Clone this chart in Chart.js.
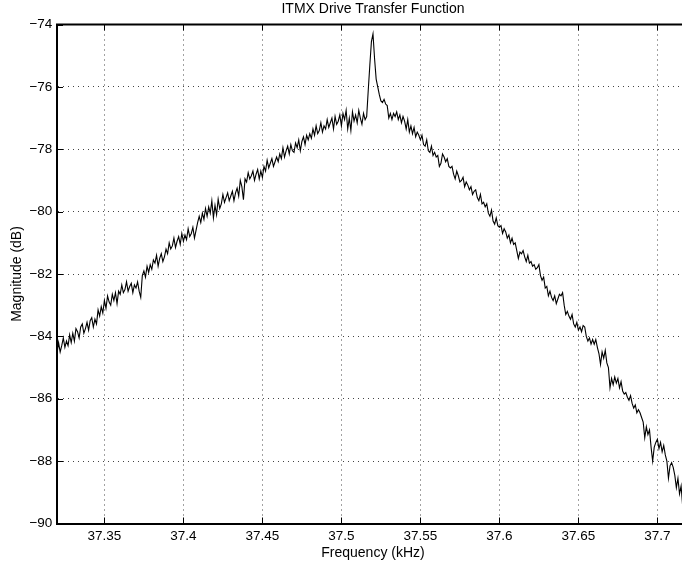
<!DOCTYPE html>
<html>
<head>
<meta charset="utf-8">
<script src="https://cdn.jsdelivr.net/npm/chart.js@4"></script>
<style>
html,body{margin:0;padding:0;background:#fff;overflow:hidden;width:682px;height:565px}
#wrap{position:absolute;left:0;top:0;width:690px;height:565px}
</style>
</head>
<body>
<div id="wrap"><canvas id="c"></canvas></div>
<script>
const chartTitle = 'ITMX Drive Transfer Function';
const xAxisTitle = 'Frequency (kHz)';
const yAxisTitle = 'Magnitude (dB)';
const xTickValues = [37.35, 37.4, 37.45, 37.5, 37.55, 37.6, 37.65, 37.7];
const yTickValues = [-90, -88, -86, -84, -82, -80, -78, -76, -74];

const freqKHz = [
37.320,37.321,37.322,37.323,37.324,37.325,37.326,37.327,37.328,37.329,
37.330,37.331,37.332,37.333,37.334,37.335,37.336,37.337,37.338,37.339,
37.340,37.341,37.342,37.343,37.344,37.345,37.346,37.347,37.348,37.349,
37.350,37.351,37.352,37.353,37.354,37.355,37.356,37.357,37.358,37.359,
37.360,37.361,37.362,37.363,37.364,37.365,37.366,37.367,37.368,37.369,
37.370,37.371,37.372,37.373,37.374,37.375,37.376,37.377,37.378,37.379,
37.380,37.381,37.382,37.383,37.384,37.385,37.386,37.387,37.388,37.389,
37.390,37.391,37.392,37.393,37.394,37.395,37.396,37.397,37.398,37.399,
37.400,37.401,37.402,37.403,37.404,37.405,37.406,37.407,37.408,37.409,
37.410,37.411,37.412,37.413,37.414,37.415,37.416,37.417,37.418,37.419,
37.420,37.421,37.422,37.423,37.424,37.425,37.426,37.427,37.428,37.429,
37.430,37.431,37.432,37.433,37.434,37.435,37.436,37.437,37.438,37.439,
37.440,37.441,37.442,37.443,37.444,37.445,37.446,37.447,37.448,37.449,
37.450,37.451,37.452,37.453,37.454,37.455,37.456,37.457,37.458,37.459,
37.460,37.461,37.462,37.463,37.464,37.465,37.466,37.467,37.468,37.469,
37.470,37.471,37.472,37.473,37.474,37.475,37.476,37.477,37.478,37.479,
37.480,37.481,37.482,37.483,37.484,37.485,37.486,37.487,37.488,37.489,
37.490,37.491,37.492,37.493,37.494,37.495,37.496,37.497,37.498,37.499,
37.500,37.501,37.502,37.503,37.504,37.505,37.506,37.507,37.508,37.509,
37.510,37.511,37.512,37.513,37.514,37.515,37.516,37.517,37.518,37.519,
37.520,37.521,37.522,37.523,37.524,37.525,37.526,37.527,37.528,37.529,
37.530,37.531,37.532,37.533,37.534,37.535,37.536,37.537,37.538,37.539,
37.540,37.541,37.542,37.543,37.544,37.545,37.546,37.547,37.548,37.549,
37.550,37.551,37.552,37.553,37.554,37.555,37.556,37.557,37.558,37.559,
37.560,37.561,37.562,37.563,37.564,37.565,37.566,37.567,37.568,37.569,
37.570,37.571,37.572,37.573,37.574,37.575,37.576,37.577,37.578,37.579,
37.580,37.581,37.582,37.583,37.584,37.585,37.586,37.587,37.588,37.589,
37.590,37.591,37.592,37.593,37.594,37.595,37.596,37.597,37.598,37.599,
37.600,37.601,37.602,37.603,37.604,37.605,37.606,37.607,37.608,37.609,
37.610,37.611,37.612,37.613,37.614,37.615,37.616,37.617,37.618,37.619,
37.620,37.621,37.622,37.623,37.624,37.625,37.626,37.627,37.628,37.629,
37.630,37.631,37.632,37.633,37.634,37.635,37.636,37.637,37.638,37.639,
37.640,37.641,37.642,37.643,37.644,37.645,37.646,37.647,37.648,37.649,
37.650,37.651,37.652,37.653,37.654,37.655,37.656,37.657,37.658,37.659,
37.660,37.661,37.662,37.663,37.664,37.665,37.666,37.667,37.668,37.669,
37.670,37.671,37.672,37.673,37.674,37.675,37.676,37.677,37.678,37.679,
37.680,37.681,37.682,37.683,37.684,37.685,37.686,37.687,37.688,37.689,
37.690,37.691,37.692,37.693,37.694,37.695,37.696,37.697,37.698,37.699,
37.700,37.701,37.702,37.703,37.704,37.705,37.706,37.707,37.708,37.709,
37.710,37.711,37.712,37.713,37.714,37.715,37.716,37.717,37.718,37.719,
37.720
];

const magDB = [
-84.55,-84.20,-84.50,-84.30,-84.05,-84.35,-84.15,-84.30,-83.95,-84.20,
-83.90,-84.15,-83.75,-83.85,-84.05,-83.70,-83.60,-83.90,-83.75,-83.55,
-83.80,-83.50,-83.40,-83.70,-83.45,-83.60,-83.15,-83.35,-83.05,-83.25,
-82.85,-83.10,-82.70,-82.90,-83.00,-82.65,-82.85,-82.60,-82.95,-82.55,
-82.65,-82.35,-82.60,-82.50,-82.25,-82.55,-82.40,-82.30,-82.60,-82.35,
-82.45,-82.25,-82.55,-82.75,-82.05,-81.90,-82.10,-81.75,-81.95,-81.70,
-81.85,-81.55,-81.65,-81.40,-81.75,-81.50,-81.35,-81.60,-81.45,-81.20,
-81.35,-81.00,-81.20,-81.10,-80.85,-81.15,-80.95,-80.80,-81.05,-80.70,
-80.95,-80.75,-80.90,-80.55,-80.80,-80.70,-80.50,-80.85,-80.60,-80.35,
-80.15,-80.35,-80.05,-80.25,-79.90,-80.15,-79.85,-80.05,-79.65,-80.20,
-79.80,-80.10,-79.60,-79.90,-79.75,-79.45,-79.70,-79.55,-79.40,-79.65,
-79.50,-79.35,-79.65,-79.40,-79.25,-79.50,-79.00,-79.20,-79.62,-78.95,
-79.05,-78.75,-78.95,-78.85,-78.70,-79.00,-78.80,-78.65,-78.95,-78.70,
-78.90,-78.55,-78.70,-78.35,-78.60,-78.45,-78.30,-78.55,-78.40,-78.25,
-78.40,-78.15,-78.30,-77.95,-78.25,-78.05,-77.90,-78.15,-77.85,-78.05,
-78.10,-77.80,-77.95,-77.70,-78.05,-77.75,-77.60,-77.85,-77.55,-77.70,
-77.50,-77.65,-77.35,-77.55,-77.25,-77.50,-77.40,-77.15,-77.45,-77.25,
-77.35,-77.05,-77.30,-77.15,-77.00,-77.35,-76.95,-77.20,-77.10,-76.90,
-77.25,-76.85,-77.05,-76.75,-77.35,-77.00,-77.40,-76.80,-77.10,-76.90,
-77.15,-76.75,-77.00,-77.20,-76.85,-77.05,-76.95,-76.10,-75.30,-74.55,
-74.30,-75.10,-75.75,-76.00,-76.25,-76.45,-76.50,-76.40,-76.55,-76.60,
-77.00,-76.85,-77.05,-76.85,-76.95,-76.80,-77.05,-76.90,-77.15,-76.95,
-77.10,-77.35,-77.05,-77.45,-77.25,-77.50,-77.30,-77.60,-77.45,-77.55,
-77.70,-77.55,-77.85,-77.90,-77.70,-78.05,-78.10,-77.90,-78.20,-78.10,
-78.25,-78.20,-78.55,-78.45,-78.15,-78.25,-78.40,-78.30,-78.55,-78.60,
-78.55,-78.80,-78.95,-78.70,-78.85,-79.05,-79.00,-78.90,-79.20,-79.05,
-79.15,-79.30,-79.20,-79.45,-79.35,-79.30,-79.55,-79.65,-79.45,-79.75,
-79.70,-79.85,-79.75,-80.05,-80.15,-79.95,-80.30,-80.40,-80.20,-80.45,
-80.50,-80.45,-80.70,-80.55,-80.65,-80.85,-80.75,-81.00,-80.85,-81.05,
-81.00,-81.25,-81.50,-81.30,-81.35,-81.25,-81.45,-81.60,-81.40,-81.65,
-81.60,-81.75,-81.70,-81.85,-81.80,-81.70,-82.05,-82.20,-82.10,-82.45,
-82.40,-82.70,-82.55,-82.75,-82.85,-82.70,-82.95,-82.80,-82.65,-82.70,
-82.60,-83.00,-83.30,-83.20,-83.35,-83.45,-83.30,-83.60,-83.70,-83.55,
-83.80,-83.70,-83.85,-83.65,-83.70,-84.00,-84.15,-84.05,-84.25,-84.10,
-84.25,-84.10,-84.35,-84.55,-84.90,-84.50,-84.70,-84.45,-84.85,-85.00,
-85.65,-85.35,-85.55,-85.30,-85.50,-85.35,-85.65,-85.45,-85.75,-85.85,
-85.80,-85.95,-86.05,-85.90,-86.15,-86.30,-86.20,-86.45,-86.35,-86.45,
-86.60,-86.75,-87.25,-86.90,-87.15,-87.00,-87.55,-88.00,-87.55,-87.40,
-87.30,-87.60,-87.40,-87.70,-87.50,-87.80,-88.00,-88.55,-88.15,-88.05,
-88.20,-88.45,-88.85,-88.55,-89.05,-88.80,-89.45,-89.25,-89.60,-89.45,
-89.70
];

const FAMILY = '"Liberation Sans", Arial, Helvetica, sans-serif';
const tickFont = {family: FAMILY, size: 13.5, weight: 'normal'};
const titleFont = {family: FAMILY, size: 14, weight: 'normal'};

const axesDecor = {
  id: 'axesDecor',
  afterDraw(chart) {
    const ctx = chart.ctx;
    const a = chart.chartArea;
    const xs = chart.scales.x, ys = chart.scales.y;
    ctx.save();
    ctx.strokeStyle = '#000';
    ctx.lineWidth = 1;
    const L = 6;
    ctx.beginPath();
    xTickValues.forEach(v => {
      const p = Math.round(xs.getPixelForValue(v)) + 0.5;
      ctx.moveTo(p, a.bottom); ctx.lineTo(p, a.bottom - L);
      ctx.moveTo(p, a.top); ctx.lineTo(p, a.top + L);
    });
    yTickValues.forEach(v => {
      const p = Math.round(ys.getPixelForValue(v)) + 0.5;
      ctx.moveTo(a.left, p); ctx.lineTo(a.left + L, p);
      ctx.moveTo(a.right, p); ctx.lineTo(a.right - L, p);
    });
    ctx.stroke();
    ctx.lineWidth = 2;
    ctx.beginPath();
    ctx.moveTo(a.left - 1, a.top); ctx.lineTo(a.right, a.top);
    ctx.moveTo(a.right, a.top); ctx.lineTo(a.right, a.bottom);
    ctx.stroke();
    ctx.restore();
  }
};

new Chart(document.getElementById('c'), {
  type: 'line',
  data: {
    datasets: [{
      data: freqKHz.map((f, i) => ({x: f, y: magDB[i]})),
      borderColor: '#000',
      borderWidth: 1.1,
      pointRadius: 0,
      fill: false,
      tension: 0
    }]
  },
  options: {
    responsive: true,
    maintainAspectRatio: false,
    devicePixelRatio: 1,
    animation: false,
    layout: {padding: {left: 0, right: 1, top: 0, bottom: 0}},
    plugins: {
      legend: {display: false},
      tooltip: {enabled: false},
      title: {
        display: true,
        text: chartTitle,
        color: '#000',
        font: titleFont,
        fullSize: false,
        padding: {top: 0.75, bottom: 6.95}
      }
    },
    scales: {
      x: {
        type: 'linear',
        min: 37.32,
        max: 37.72,
        afterBuildTicks: s => { s.ticks = xTickValues.map(v => ({value: v})); },
        afterFit: s => { s.height = 41.5; },
        ticks: {
          callback: v => String(Number(Number(v).toFixed(2))),
          font: tickFont, color: '#000', padding: 4.9,
          maxRotation: 0, autoSkip: false
        },
        grid: {color: '#444', lineWidth: 1, drawTicks: false},
        border: {display: true, color: '#000', width: 2, dash: [1, 4]},
        title: {display: true, text: xAxisTitle, color: '#000', font: titleFont, padding: {top: 0, bottom: 3.45}}
      },
      y: {
        type: 'linear',
        min: -90,
        max: -74,
        afterBuildTicks: s => { s.ticks = yTickValues.map(v => ({value: v})); },
        afterFit: s => { s.width = 57; },
        ticks: {
          callback: v => (v < 0 ? '\u2212' + Math.abs(v) : String(v)),
          font: tickFont, color: '#000', padding: 4.7, autoSkip: false
        },
        grid: {color: '#444', lineWidth: 1, drawTicks: false},
        border: {display: true, color: '#000', width: 2, dash: [1, 4]},
        title: {display: true, text: yAxisTitle, color: '#000', font: titleFont, padding: {top: 9.2, bottom: 0}}
      }
    }
  },
  plugins: [axesDecor]
});
</script>
</body>
</html>
